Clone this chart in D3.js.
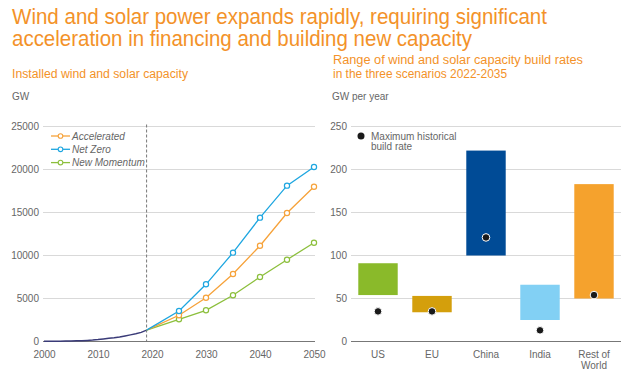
<!DOCTYPE html>
<html>
<head>
<meta charset="utf-8">
<script src="https://cdn.jsdelivr.net/npm/d3@7"></script>
<style>
  body { margin: 0; background: #fff; }
  svg { font-family: "Liberation Sans", Arial, sans-serif; }
</style>
</head>
<body>
<svg id="chart" width="640" height="375"></svg>
<script>
// historical installed capacity (GW)
const histYears = [2000, 2001, 2002, 2003, 2004, 2005, 2006, 2007, 2008, 2009,
                   2010, 2011, 2012, 2013, 2014, 2015, 2016, 2017, 2018, 2019];
const histValues = [18, 24, 31, 39, 48, 64, 80, 100, 128, 165,
                    220, 290, 370, 440, 530, 650, 770, 900, 1060, 1320];

// scenario projections (GW)
const scenarioYears = [2025, 2030, 2035, 2040, 2045, 2050];
const accelerated = [3050, 5090, 7850, 11140, 14940, 18000];
const netZero = [3550, 6650, 10330, 14400, 18120, 20290];
const newMomentum = [2580, 3630, 5370, 7500, 9510, 11490];
const scenarioNames = ["Accelerated", "Net Zero", "New Momentum"];

const capTicks = [0, 5000, 10000, 15000, 20000, 25000];
const yearTicks = [2000, 2010, 2020, 2030, 2040, 2050];

// build rates 2022-2035 (GW per year)
const regions = ["US", "EU", "China", "India", "Rest of World"];
const rateLow = [54, 34, 100, 25, 50];
const rateHigh = [91, 53, 222, 66, 183];
const maxHistorical = [35, 35, 121, 13, 54];
const rateTicks = [0, 50, 100, 150, 200, 250];

const orange = "#f39229";
const font = "Liberation Sans, Arial, sans-serif";
const svg = d3.select("#chart");

/**
 * Titles (width pinned to the reference)
 */
function title(x, y, size, len, txt) {
    svg.append("text").attr("x", x).attr("y", y)
        .attr("fill", orange).style("font-size", size + "px")
        .attr("textLength", len).attr("lengthAdjust", "spacingAndGlyphs")
        .text(txt);
}
title(12, 24, 21.5, 535, "Wind and solar power expands rapidly, requiring significant");
title(12, 46, 21.5, 460, "acceleration in financing and building new capacity");
title(12, 78, 12.5, 176, "Installed wind and solar capacity");
title(333, 64, 12.5, 250, "Range of wind and solar capacity build rates");
title(333, 78, 12.5, 174, "in the three scenarios 2022-2035");

/**
 * Left chart: installed capacity lines
 */
const xYear = d3.scaleLinear().domain([2000, 2050]).range([44, 314]);
const yCap = d3.scaleLinear().domain([0, 25000]).range([341.5, 126.5]);

svg.append("text").attr("x", 12).attr("y", 100)
    .attr("fill", "#666").style("font-size", "10px").text("GW");

// gridlines
svg.append("g").selectAll("line")
    .data(capTicks.slice(1))
    .enter().append("line")
    .attr("x1", 43).attr("x2", 315)
    .attr("y1", d => yCap(d)).attr("y2", d => yCap(d))
    .attr("stroke", "#d9d9d9").attr("stroke-width", 1);

const yAxisL = svg.append("g")
    .attr("transform", "translate(39,0)")
    .call(d3.axisLeft(yCap).tickValues(capTicks).tickFormat(d3.format("d")).tickSize(0).tickPadding(0));
yAxisL.select(".domain").remove();
yAxisL.selectAll("text").attr("fill", "#666").style("font-size", "10px").style("font-family", font);

const xAxisL = svg.append("g")
    .attr("transform", `translate(0,${yCap(0)})`)
    .call(d3.axisBottom(xYear).tickValues(yearTicks).tickFormat(d3.format("d")).tickSize(0).tickPadding(9));
xAxisL.select(".domain").attr("stroke", "#777").attr("d", "M43,0H315");
xAxisL.selectAll("text").attr("fill", "#666").style("font-size", "10px").style("font-family", font);

// dashed line at last historical year
const lastYear = histYears[histYears.length - 1];
const lastValue = histValues[histValues.length - 1];
svg.append("line")
    .attr("x1", xYear(lastYear)).attr("x2", xYear(lastYear))
    .attr("y1", yCap(25000) - 2).attr("y2", yCap(0))
    .attr("stroke", "#777").attr("stroke-width", 1)
    .attr("stroke-dasharray", "3,2");

const line = d3.line().x(d => xYear(d[0])).y(d => yCap(d[1]));

svg.append("path")
    .datum(histYears.map((yr, i) => [yr, histValues[i]]))
    .attr("d", line)
    .attr("fill", "none").attr("stroke", "#3a3b78").attr("stroke-width", 1.5);

const scenarios = [
    { name: scenarioNames[0], values: accelerated, color: "#f6a23a" },
    { name: scenarioNames[1], values: netZero, color: "#1ea6e0" },
    { name: scenarioNames[2], values: newMomentum, color: "#8cbf3c" }
];

// draw New Momentum first so blue sits on top
[2, 0, 1].forEach(k => {
    const s = scenarios[k];
    const pts = [[lastYear, lastValue]].concat(scenarioYears.map((yr, i) => [yr, s.values[i]]));
    svg.append("path").datum(pts).attr("d", line)
        .attr("fill", "none").attr("stroke", s.color).attr("stroke-width", 1.3);
    svg.append("g").selectAll("circle")
        .data(pts.slice(1))
        .enter().append("circle")
        .attr("cx", d => xYear(d[0])).attr("cy", d => yCap(d[1]))
        .attr("r", 2.6)
        .attr("fill", "#fff").attr("stroke", s.color).attr("stroke-width", 1.2);
});

// legend
const legend = svg.append("g").attr("transform", "translate(51,136)");
scenarios.forEach((s, i) => {
    const g = legend.append("g").attr("transform", `translate(0,${i * 13.3})`);
    g.append("line").attr("x1", 0).attr("x2", 19).attr("y1", 0).attr("y2", 0)
        .attr("stroke", s.color).attr("stroke-width", 1.3);
    g.append("circle").attr("cx", 9.5).attr("cy", 0).attr("r", 2.3)
        .attr("fill", "#fff").attr("stroke", s.color).attr("stroke-width", 1.1);
    g.append("text").attr("x", 21).attr("y", 3.5)
        .attr("fill", "#666").style("font-size", "10px").style("font-style", "italic")
        .text(s.name);
});

/**
 * Right chart: build-rate ranges
 */
const xReg = d3.scaleBand().domain(regions).range([351, 621]).paddingInner(0.27).paddingOuter(0.135);
const yRate = d3.scaleLinear().domain([0, 250]).range([341.5, 126.5]);

svg.append("text").attr("x", 332).attr("y", 100)
    .attr("fill", "#666").style("font-size", "10px").text("GW per year");

svg.append("g").selectAll("line")
    .data(rateTicks.slice(1))
    .enter().append("line")
    .attr("x1", 351).attr("x2", 621)
    .attr("y1", d => yRate(d)).attr("y2", d => yRate(d))
    .attr("stroke", "#d9d9d9").attr("stroke-width", 1);

const yAxisR = svg.append("g")
    .attr("transform", "translate(347,0)")
    .call(d3.axisLeft(yRate).tickValues(rateTicks).tickSize(0).tickPadding(0));
yAxisR.select(".domain").remove();
yAxisR.selectAll("text").attr("fill", "#666").style("font-size", "10px").style("font-family", font);

const regionColors = ["#8aba2a", "#d49f0c", "#004b96", "#82d0f4", "#f5a22d"];

svg.append("g").selectAll("rect")
    .data(regions)
    .enter().append("rect")
    .attr("x", d => xReg(d))
    .attr("width", xReg.bandwidth())
    .attr("y", (d, i) => yRate(rateHigh[i]))
    .attr("height", (d, i) => yRate(rateLow[i]) - yRate(rateHigh[i]))
    .attr("fill", (d, i) => regionColors[i]);

const xAxisR = svg.append("g")
    .attr("transform", `translate(0,${yRate(0)})`)
    .call(d3.axisBottom(xReg).tickSize(0).tickPadding(9));
xAxisR.select(".domain").attr("stroke", "#777").attr("d", "M351,0H621");
xAxisR.selectAll("text").attr("fill", "#666").style("font-size", "10px").style("font-family", font)
    .each(function(d) {
        const words = d.split(" ");
        if (words.length > 2) {
            const t = d3.select(this).text(null);
            t.append("tspan").attr("x", 0).text(words.slice(0, 2).join(" "));
            t.append("tspan").attr("x", 0).attr("dy", "1.1em").text(words.slice(2).join(" "));
        }
    });

svg.append("g").selectAll("circle")
    .data(regions)
    .enter().append("circle")
    .attr("cx", d => xReg(d) + xReg.bandwidth() / 2)
    .attr("cy", (d, i) => yRate(maxHistorical[i]))
    .attr("r", 3.8)
    .attr("fill", "#1a1a1a").attr("stroke", "#fff").attr("stroke-width", 1);

// legend for the dots
svg.append("circle").attr("cx", 361).attr("cy", 136).attr("r", 3.5).attr("fill", "#1a1a1a");
svg.append("text").attr("x", 371).attr("y", 139.5)
    .attr("fill", "#666").style("font-size", "10px").text("Maximum historical");
svg.append("text").attr("x", 371).attr("y", 150)
    .attr("fill", "#666").style("font-size", "10px").text("build rate");
</script>
</body>
</html>
